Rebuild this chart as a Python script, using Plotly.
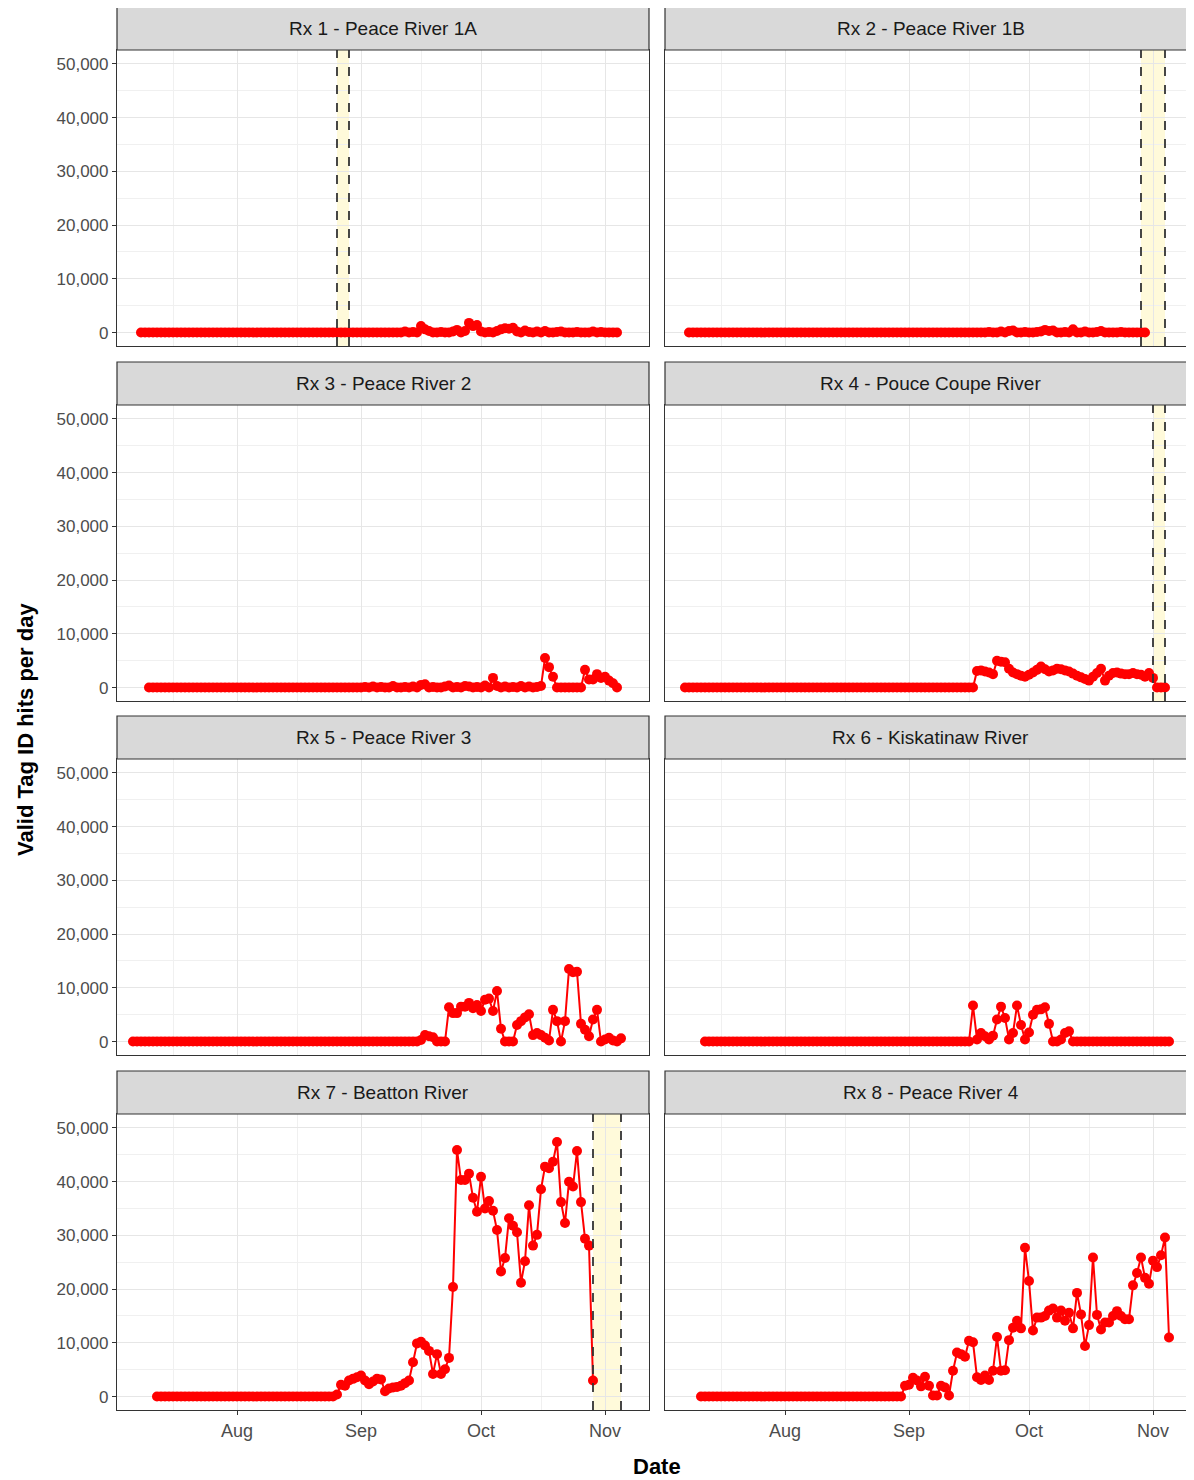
import pandas as pd
import plotly.graph_objects as go
from plotly.subplots import make_subplots

titles = ["Rx 1 - Peace River 1A", "Rx 2 - Peace River 1B", "Rx 3 - Peace River 2",
          "Rx 4 - Pouce Coupe River", "Rx 5 - Peace River 3", "Rx 6 - Kiskatinaw River",
          "Rx 7 - Beatton River", "Rx 8 - Peace River 4"]
starts = ["2021-07-08", "2021-07-08", "2021-07-10", "2021-07-07",
          "2021-07-06", "2021-07-12", "2021-07-12", "2021-07-11"]
ends = ["2021-11-04", "2021-10-30", "2021-11-04", "2021-11-04",
        "2021-11-05", "2021-11-05", "2021-10-29", "2021-11-05"]

# observed (non-flat) tail of each series; earlier days are 0
rx1_tail = [0,0,200,0,100,0,1200,600,300,0,0,100,0,0,200,500,0,300,1800,1200,1400,200,0,100,0,300,600,800,700,900,200,0,400,100,0,200,0,300,0,0,100,200,0,0,0,100,0,0,0,200,0,100,0,0,0,0]
rx2_tail = [0,100,0,0,200,0,300,400,0,0,100,0,0,100,200,500,300,400,0,0,100,0,600,0,0,200,0,0,100,300,0,0,0,0,100,0,0,0,0,0,0]
rx3_tail = [0,100,0,200,0,100,0,0,300,0,0,100,0,200,0,500,600,0,100,0,0,200,400,0,100,0,300,200,0,100,0,400,0,1800,300,0,200,0,100,0,300,0,200,0,100,300,5500,3800,2000,0,0,0,0,0,0,0,3300,1500,1500,2500,1800,2000,1300,800,0]
rx4_tail = [0,3100,3200,3000,2800,2500,5000,4800,4700,3500,2800,2500,2200,2000,2400,2800,3300,3900,3400,3000,3200,3500,3400,3200,3000,2600,2200,1900,1600,1300,2000,2700,3500,1300,2200,2700,2800,2600,2500,2500,2700,2500,2400,2000,2700,1800,0,0,0]
rx5_tail = [0,300,1200,1000,800,0,0,0,6400,5300,5300,6500,6500,7200,6200,6800,5700,7800,8000,5700,9400,2400,0,0,0,3100,3800,4500,5100,1200,1600,1200,700,200,5900,3800,0,3800,13500,12900,13000,3300,2200,1000,4100,5900,0,400,700,200,0,600]
rx6_tail = [0,6700,400,1600,1000,400,1100,4100,6500,4400,400,1600,6700,3100,400,1700,5000,5900,6000,6400,3300,0,0,400,1600,1900,0,0,0,0,0,0,0,0,0,0,0,0,0,0,0,0,0,0,0,0,0,0,0,0,0]
rx7_tail = [0,400,2200,2000,3000,3300,3600,3900,3000,2300,2800,3300,3200,1000,1500,1700,1800,2000,2500,3000,6400,9900,10200,9500,8500,4200,7900,4200,5100,7200,20400,45900,40300,40300,41500,37000,34400,40900,35000,36400,34600,31000,23300,25800,33200,31800,30600,21200,25200,35600,28100,30100,38600,42800,42500,43700,47400,36200,32300,40000,39100,45700,36200,29400,28100,3000]
rx8_tail = [0,2000,2200,3500,3000,1900,3700,2000,200,200,2000,1700,200,4800,8200,7900,7400,10400,10100,3600,3100,3900,3100,4800,11100,4800,4900,10500,12800,14100,12700,27700,21500,12300,14700,14700,15000,16000,16400,14700,16000,14100,15600,12700,19300,15300,9400,13300,25900,15200,12500,13800,13800,15000,15900,15000,14400,14400,20700,23000,25900,22100,21000,25300,24100,26300,29600,11000]
tails = [rx1_tail, rx2_tail, rx3_tail, rx4_tail, rx5_tail, rx6_tail, rx7_tail, rx8_tail]

windows = {0: ("2021-08-26", "2021-08-29"), 1: ("2021-10-29", "2021-11-04"),
           3: ("2021-11-01", "2021-11-04"), 6: ("2021-10-29", "2021-11-05")}

W, H = 1210, 1480
OFF = 8  # page body margin
fig = make_subplots(rows=4, cols=2)
xcols = [(117, 649), (665, 1197)]
rows_px = [(7, 50, 346), (362, 405, 701), (716, 759, 1055), (1071, 1114, 1410)]

def px(v): return (v - OFF) / W
def py(v): return 1 - (v - OFF) / H

shapes, annotations = [], []
for i in range(8):
    r, c = i // 2, i % 2
    dates = pd.date_range(starts[i], ends[i], freq="D")
    vals = [0] * (len(dates) - len(tails[i])) + tails[i]
    fig.add_trace(go.Scatter(x=dates, y=vals, mode="lines+markers",
                             line=dict(color="#ff0000", width=2),
                             marker=dict(color="#ff0000", size=10),
                             showlegend=False), row=r + 1, col=c + 1)
    x0p, x1p = xcols[c]
    st, pt, pb = rows_px[r]
    xd = [px(x0p), px(x1p)]
    yd = [py(pb), py(pt)]
    n = i + 1
    xa = "xaxis" if n == 1 else f"xaxis{n}"
    ya = "yaxis" if n == 1 else f"yaxis{n}"
    fig.layout[xa].update(domain=xd, range=["2021-07-02", "2021-11-12"], type="date",
                          tickvals=["2021-08-01", "2021-09-01", "2021-10-01", "2021-11-01"],
                          ticktext=["Aug", "Sep", "Oct", "Nov"],
                          showticklabels=(r == 3), ticks="outside" if r == 3 else "",
                          ticklen=4, tickcolor="#333333",
                          showgrid=True, gridcolor="#e6e6e6", gridwidth=1.3,
                          minor=dict(tickvals=["2021-07-16", "2021-08-16", "2021-09-16", "2021-10-16"],
                                     showgrid=True, gridcolor="#f0f0f0", gridwidth=0.8),
                          zeroline=False, showline=True, mirror=True, linecolor="#333333",
                          linewidth=1.2, tickfont=dict(size=18, color="#4d4d4d"),
                          automargin=False)
    fig.layout[ya].update(domain=yd, range=[-2500, 52600],
                          tickvals=[0, 10000, 20000, 30000, 40000, 50000],
                          tickformat=",", showticklabels=(c == 0),
                          ticks="outside" if c == 0 else "", ticklen=4, tickcolor="#333333",
                          showgrid=True, gridcolor="#e6e6e6", gridwidth=1.3,
                          minor=dict(tickvals=[5000, 15000, 25000, 35000, 45000],
                                     showgrid=True, gridcolor="#f0f0f0", gridwidth=0.8),
                          zeroline=False, showline=True, mirror=True, linecolor="#333333",
                          linewidth=1.2, tickfont=dict(size=17, color="#4d4d4d"),
                          automargin=False)
    # strip
    shapes.append(dict(type="rect", xref="paper", yref="paper", x0=xd[0], x1=xd[1],
                       y0=py(pt), y1=py(st), fillcolor="#d9d9d9",
                       line=dict(color="#333333", width=1.2), layer="above"))
    annotations.append(dict(text=titles[i], xref="paper", yref="paper",
                            x=px((x0p + x1p) / 2), y=py((st + pt) / 2),
                            xanchor="center", yanchor="middle",
                            showarrow=False, font=dict(size=19, color="#1a1a1a")))
    if i in windows:
        a, b = windows[i]
        xr = "x" if n == 1 else f"x{n}"
        yr = "y domain" if n == 1 else f"y{n} domain"
        shapes.append(dict(type="rect", xref=xr, yref=yr, x0=a, x1=b, y0=0, y1=1,
                           fillcolor="#fffad6", opacity=0.9, line=dict(width=0), layer="below"))
        for d in (a, b):
            shapes.append(dict(type="line", xref=xr, yref=yr, x0=d, x1=d, y0=0, y1=1,
                               line=dict(color="#333333", width=1.8, dash="dash")))

annotations.append(dict(text="<b>Date</b>", xref="paper", yref="paper", x=px(657),
                        y=py(1466), xanchor="center", yanchor="middle",
                        showarrow=False, font=dict(size=22, color="black")))
annotations.append(dict(text="<b>Valid Tag ID hits per day</b>", xref="paper", yref="paper",
                        x=px(25), y=py(730), xanchor="center", yanchor="middle",
                        showarrow=False, textangle=-90,
                        font=dict(size=22, color="black")))

fig.update_layout(width=W, height=H, margin=dict(l=0, r=0, t=0, b=0),
                  plot_bgcolor="white", paper_bgcolor="white",
                  font=dict(family="Liberation Sans, Arial, sans-serif"),
                  shapes=shapes, annotations=annotations)
fig.write_html("out.html")
